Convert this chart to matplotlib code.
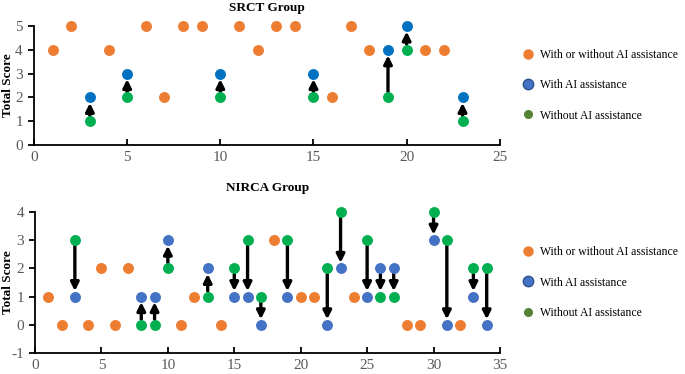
import matplotlib
matplotlib.use('Agg')
import matplotlib.pyplot as plt
from matplotlib.lines import Line2D

# SRCT group
srct_both_x = [1, 2, 4, 6, 7, 8, 9, 11, 12, 13, 14, 16, 17, 18, 21, 22]
srct_both_y = [4, 5, 4, 5, 2, 5, 5, 5, 4, 5, 5, 2, 5, 4, 4, 4]
srct_pair_x = [3, 5, 10, 15, 19, 20, 23]
srct_without = [1, 2, 2, 2, 2, 4, 1]
srct_with = [2, 3, 3, 3, 4, 5, 2]

# NIRCA group
nirca_both_x = [1, 2, 4, 5, 6, 7, 11, 12, 14, 18, 20, 21, 24, 28, 29, 32]
nirca_both_y = [1, 0, 0, 2, 0, 2, 0, 1, 0, 3, 1, 1, 1, 0, 0, 0]
nirca_pair_x = [3, 8, 9, 10, 13, 15, 16, 17, 19, 22, 23, 25, 26, 27, 30, 31, 33, 34]
nirca_without = [3, 0, 0, 2, 1, 2, 3, 1, 3, 2, 4, 3, 1, 1, 4, 3, 2, 2]
nirca_with = [1, 1, 1, 3, 2, 1, 1, 0, 1, 0, 2, 1, 2, 2, 3, 0, 1, 0]
nirca_reversed = [26, 27]  # arrow points from "with" to "without"

labels = ['With or without AI assistance', 'With AI assistance', 'Without AI assistance']
orange = '#ED7D31'
green = '#00B050'

plt.rcParams['font.family'] = ['Liberation Serif', 'DejaVu Serif']
plt.rcParams['axes.unicode_minus'] = False

fig = plt.figure(figsize=(6.85, 3.74), dpi=100)
ax1 = fig.add_axes([0.0496, 0.6123, 0.680, 0.3182])
ax2 = fig.add_axes([0.0511, 0.0561, 0.6788, 0.3771])


def draw(ax, bx, by, px, pwo, pw, blue, reversed_x, title, xlim, ylim, xticks, yticks, pad, ylab_x):
    for x, a, b in zip(px, pwo, pw):
        start, end = (b, a) if x in reversed_x else (a, b)
        ax.annotate('', xy=(x, end), xytext=(x, start),
                    arrowprops=dict(arrowstyle='-|>', color='black', lw=2.4,
                                    mutation_scale=12, shrinkA=4, shrinkB=4),
                    zorder=2, annotation_clip=False)
    ax.scatter(bx, by, s=62, color=orange, zorder=3, clip_on=False, linewidths=0)
    ax.scatter(px, pw, s=62, color=blue, zorder=3, clip_on=False, linewidths=0)
    ax.scatter(px, pwo, s=62, color=green, zorder=3, clip_on=False, linewidths=0)
    ax.set_xlim(*xlim)
    ax.set_ylim(*ylim)
    ax.set_xticks(xticks)
    ax.set_yticks(yticks)
    for s in ['top', 'right']:
        ax.spines[s].set_visible(False)
    for s in ['left', 'bottom']:
        ax.spines[s].set_linewidth(1.3)
    ax.tick_params(axis='x', direction='in', length=4, width=1.3, labelsize=11,
                   labelcolor='#595959', pad=4)
    ax.tick_params(axis='y', direction='out', length=4, width=1.3, labelsize=11,
                   labelcolor='#595959', pad=4)
    ax.set_ylabel('Total Score', fontsize=9.5, fontweight='bold')
    ax.yaxis.set_label_coords(ylab_x, 0.5)
    ax.set_title(title, fontsize=9.5, fontweight='bold', pad=pad)
    handles = [
        Line2D([], [], marker='o', ls='', color=orange, markersize=7.5, markeredgewidth=0),
        Line2D([], [], marker='o', ls='', color='#4472C4', markersize=7.5,
               markeredgecolor='#2F528F', markeredgewidth=1),
        Line2D([], [], marker='o', ls='', color='#548235', markersize=6.5, markeredgewidth=0),
    ]
    ax.legend(handles, labels, loc='center left', bbox_to_anchor=(1.047, 0.5),
              frameon=False, fontsize=8.4, labelspacing=1.55, handlelength=1,
              handletextpad=0.55, borderaxespad=0, borderpad=0)


draw(ax1, srct_both_x, srct_both_y, srct_pair_x, srct_without, srct_with,
     '#0070C0', [], 'SRCT Group', (0, 25), (0, 5), range(0, 26, 5), range(0, 6), 11, -0.043)
draw(ax2, nirca_both_x, nirca_both_y, nirca_pair_x, nirca_without, nirca_with,
     '#4472C4', nirca_reversed, 'NIRCA Group', (0, 35), (-1, 4), range(0, 36, 5),
     range(-1, 5), 15, -0.045)

fig.savefig('out.png', dpi=100)
